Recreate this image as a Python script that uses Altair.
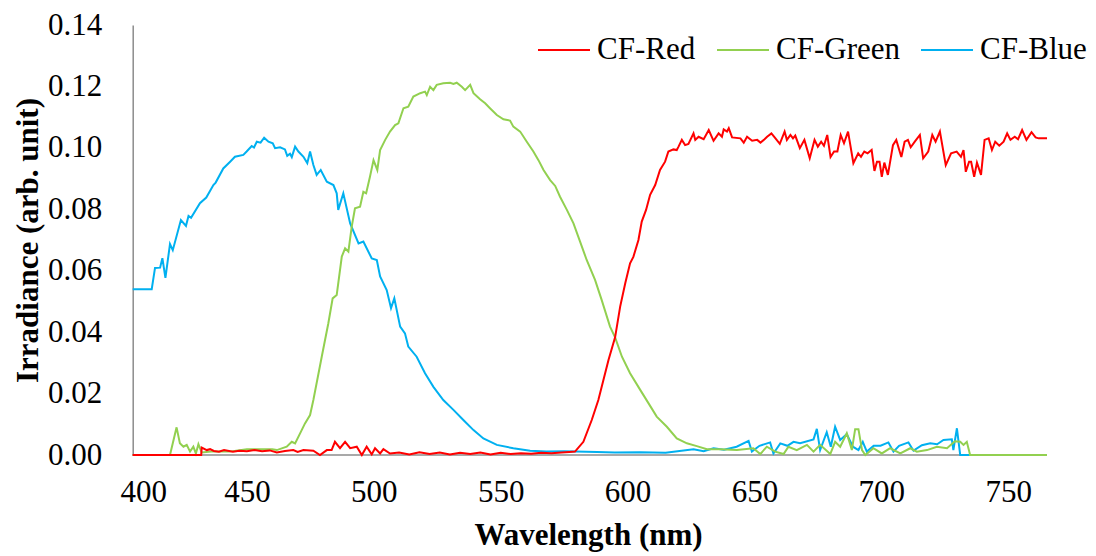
import altair as alt
import pandas as pd

# ---------------- data ----------------
blue_wl = [405, 412.5, 413.8, 415.8, 416.7, 417.9, 419.7, 420.8, 424.0, 426.0, 427.0, 428.0,
           431.5, 434.0, 436.8, 437.7, 440.7, 443.4, 445.3, 448.6, 449.9, 451.9, 452.8, 453.9,
           455.4, 456.8, 458.5, 460.2, 461.1, 463.1, 465.0, 465.9, 467.0, 467.7, 469.0, 470.3,
           472.3, 473.0, 473.8, 474.9, 476.2, 477.5, 479.1, 481.5, 484.1, 485.4, 486.0, 488.0,
           490.7, 494.0, 495.9, 499.2, 501.2, 502.5, 505.1, 506.8, 508.1, 510.4, 512.3, 513.6,
           516.9, 520.2, 523.5, 527.4, 531.4, 535.3, 539.3, 543.2, 548.5, 555.0, 561.6, 568,
           575, 588, 595, 605, 615, 626, 630, 633.9, 638, 643, 647.7, 649, 652, 656.2, 657.5,
           660.2, 663, 665.4, 668, 673.3, 674.6, 675.9, 678.5, 680.1, 681.8, 683.8, 686.4,
           688.8, 691, 692.7, 694.3, 697, 699.7, 702.8, 704.8, 707, 710.7, 712.7, 716, 719.3,
           722, 724.5, 727.8, 728.4, 729.8, 731.1, 765.3]
blue_val = [0.0540, 0.0540, 0.0609, 0.0610, 0.0641, 0.0577, 0.0687, 0.0667, 0.0765, 0.0746, 0.0778, 0.0772,
            0.0820, 0.0838, 0.0879, 0.0887, 0.0933, 0.0955, 0.0971, 0.0977, 0.0988, 0.1006, 0.1001, 0.1020,
            0.1017, 0.1033, 0.1020, 0.1015, 0.0999, 0.1002, 0.0995, 0.0974, 0.0981, 0.0970, 0.1004, 0.0988,
            0.0971, 0.0961, 0.0950, 0.0988, 0.0944, 0.0912, 0.0928, 0.0890, 0.0879, 0.0852, 0.0798, 0.0852,
            0.0754, 0.0689, 0.0695, 0.0640, 0.0635, 0.0581, 0.0537, 0.0478, 0.0510, 0.0418, 0.0396, 0.0353,
            0.0320, 0.0266, 0.0222, 0.0179, 0.0147, 0.0114, 0.0081, 0.0054, 0.0033, 0.0022, 0.0014, 0.0011,
            0.0012, 0.0010, 0.0008, 0.0009, 0.0007, 0.0019, 0.0012, 0.0022, 0.0017, 0.0027, 0.0046, 0.0011, 0.0030, 0.0041, 0.0005,
            0.0038, 0.0030, 0.0043, 0.0038, 0.0051, 0.0085, 0.0016, 0.0074, 0.0027, 0.0092, 0.0049, 0.0068,
            0.0027, 0.0016, 0.0043, 0.0011, 0.0030, 0.0030, 0.0041, 0.0011, 0.0030, 0.0041, 0.0014, 0.0032, 0.0038,
            0.0035, 0.0049, 0.0051, 0.0016, 0.0087, 0.0, 0.0]

green_wl = [405, 419.7, 422.3, 423.6, 425.0, 426.3, 427.6, 428.9, 429.9, 430.9, 432.2, 436, 443,
            450, 456, 460, 461.8, 465.7, 467.7, 469, 471.6, 472.9, 474.9, 476.2, 479.5, 482.1,
            483.8, 485.4, 487.4, 488.7, 490.0, 491.3, 492.6, 494.6, 495.9, 497.0, 498.5, 499.9,
            501.4, 502.5, 504.5, 506.4, 508.4, 509.7, 511.7, 513.6, 515.6, 518.3, 520.2, 520.9,
            522.2, 523.5, 524.8, 527.4, 530.1, 531.4, 532.7, 534.7, 536.0, 538.0, 539.3, 541.9,
            543.9, 545.8, 548.5, 551.1, 553.7, 555.0, 557.7, 560.3, 562.9, 564.9, 566.9, 569.5,
            571.5, 573.4, 576.1, 578.7, 581.3, 583.9, 587.2, 589.8, 593.1, 595.1, 597.8, 601.0,
            605.0, 608.3, 611.5, 615.5, 619.4, 623.4, 627.3, 631.3, 636.5, 643.1, 649.6, 652.3,
            654.9, 658.2, 661.5, 663.4, 666.7, 670.7, 673.3, 675.9, 679.9, 681.8, 683.8, 686.4,
            688.4, 689.7, 691.0, 692.4, 693.7, 696.9, 700.2, 703.5, 707.5, 711.4, 714, 718,
            721.9, 725.9, 729, 731.1, 732.4, 733.7, 735, 765.3]
green_val = [0.0, 0.0, 0.0090, 0.0038, 0.0027, 0.0033, 0.0011, 0.0027, 0.0005, 0.0035, 0.0008, 0.0011, 0.0011,
             0.0019, 0.0019, 0.0019, 0.0016, 0.0027, 0.0043, 0.0038, 0.0081, 0.0103, 0.0130, 0.0179, 0.0320, 0.0429,
             0.0510, 0.0521, 0.0646, 0.0673, 0.0662, 0.0743, 0.0803, 0.0808, 0.0857, 0.0852, 0.0906, 0.0960,
             0.0928, 0.0993, 0.1026, 0.1053, 0.1074, 0.1080, 0.1129, 0.1134, 0.1167, 0.1178, 0.1183, 0.1172,
             0.1199, 0.1188, 0.1205, 0.1210, 0.1212, 0.1208, 0.1212, 0.1199, 0.1188, 0.1205, 0.1178, 0.1158,
             0.1145, 0.1129, 0.1107, 0.1093, 0.1089, 0.1069, 0.1053, 0.1020, 0.0988, 0.0960, 0.0928, 0.0895,
             0.0876, 0.0841, 0.0798, 0.0754, 0.0695, 0.0635, 0.0570, 0.0505, 0.0418, 0.0383, 0.0320, 0.0266,
             0.0212, 0.0168, 0.0125, 0.0092, 0.0054, 0.0038, 0.0029, 0.0019, 0.0019, 0.0016, 0.0022, 0.0003,
             0.0027, 0.0011, 0.0003, 0.0027, 0.0016, 0.0033, 0.0011, 0.0033, 0.0003, 0.0043, 0.0027, 0.0071,
             0.0016, 0.0084, 0.0084, 0.0016, 0.0, 0.0022, 0.0005, 0.0022, 0.0005, 0.0022, 0.0011, 0.0016,
             0.0027, 0.0022, 0.0045, 0.0043, 0.0033, 0.0043, 0.0, 0.0]

red_wl = [405, 432.0, 432.2, 434.2, 435.5, 437, 439, 441, 444.5, 447, 450, 453, 456, 459, 461.8,
          465, 468.3, 470, 472.3, 476.2, 478.8, 481.5, 483.4, 484.7, 486.7, 488.7, 490.7, 493.3,
          495.3, 497.2, 499.2, 500.5, 502.5, 503.8, 506.4, 510, 514, 518, 522, 526, 530, 534, 538,
          542, 546, 550, 554, 558, 562, 566, 570, 574, 577, 579.3, 582.6, 585.9, 588.5, 590.5,
          592.5, 595.1, 597.1, 599.1, 601.0, 602.3, 604.3, 605.6, 607.3, 608.9, 610.9, 612.8,
          614.8, 616.1, 618.1, 619.4, 620.1, 621.4, 622.7, 624.0, 626.0, 626.7, 628.0, 630.0,
          632.0, 633.9, 635.9, 637.2, 637.9, 639.2, 639.9, 641.2, 644.5, 645.8, 647.1, 649.1,
          651.1, 652.4, 654.0, 655.0, 656.7, 658.3, 660.0, 661.9, 662.8, 664.2, 665.2, 666.1,
          667.9, 669.7, 671.8, 673.7, 675.0, 676.3, 677.4, 678.7, 680.0, 681.4, 682.7, 684.0,
          685.3, 686.9, 689.0, 690.9, 692.0, 693.3, 694.6, 696.2, 697.3, 698.3, 699.3, 700.2,
          701.2, 702.6, 704.6, 705.9, 707.9, 709.2, 710.5, 711.6, 713.2, 715.2, 716.5, 718.5,
          720.1, 721.4, 723.1, 725.4, 727.5, 729.7, 731.4, 732.4, 733.3, 734.6, 735.4, 736.6,
          737.7, 739.3, 740.7, 742.3, 743.6, 744.9, 746.5, 748.2, 749.6, 750.9, 752.6, 753.9,
          755.5, 757.2, 759.2, 760.8, 762.0, 765.3]
red_val = [0.0, 0.0, 0.0024, 0.0016, 0.0019, 0.0013, 0.0011, 0.0016, 0.0011, 0.0014, 0.0012, 0.0016, 0.0012, 0.0015, 0.0008,
           0.0013, 0.0016, 0.0010, 0.0016, 0.0014, 0.0, 0.0016, 0.0016, 0.0043, 0.0022, 0.0043, 0.0022, 0.0027,
           0.0, 0.0027, 0.0002, 0.0022, 0.0005, 0.0019, 0.0005, 0.0008, 0.0002, 0.0009, 0.0003, 0.0008, 0.0002, 0.0007, 0.0003,
           0.0008, 0.0002, 0.0007, 0.0003, 0.0006, 0.0004, 0.0007, 0.0006, 0.0008, 0.0010, 0.0011, 0.0043, 0.0114, 0.0179, 0.0244,
           0.0309, 0.0383, 0.0483, 0.0559, 0.0624, 0.0645, 0.0700, 0.0760, 0.0798, 0.0847, 0.0879, 0.0928,
           0.0955, 0.0988, 0.0995, 0.0993, 0.1004, 0.1026, 0.1009, 0.1013, 0.1047, 0.1026, 0.1036, 0.1028,
           0.1058, 0.1023, 0.1047, 0.1036, 0.1060, 0.1053, 0.1064, 0.1034, 0.1031, 0.1017, 0.1036, 0.1023,
           0.1026, 0.1017, 0.1028, 0.1036, 0.1047, 0.1031, 0.1013, 0.1053, 0.1026, 0.1042, 0.1031, 0.1040,
           0.0999, 0.1026, 0.0966, 0.1026, 0.1004, 0.1020, 0.1007, 0.1042, 0.0970, 0.0988, 0.0988, 0.1042,
           0.1015, 0.1053, 0.0950, 0.0982, 0.0971, 0.0988, 0.0982, 0.0993, 0.0925, 0.0955, 0.0955, 0.0906,
           0.0952, 0.0912, 0.1009, 0.1026, 0.0970, 0.1020, 0.1026, 0.1002, 0.1020, 0.1042, 0.0966, 0.0988,
           0.1042, 0.1020, 0.1053, 0.0944, 0.0982, 0.0988, 0.0971, 0.0993, 0.0922, 0.0955, 0.0955, 0.0906,
           0.0952, 0.0912, 0.1026, 0.1031, 0.0993, 0.1020, 0.1007, 0.1020, 0.1047, 0.1026, 0.1036, 0.1028,
           0.1058, 0.1026, 0.1051, 0.1034, 0.1031, 0.1031]

series_names = ["CF-Red", "CF-Green", "CF-Blue"]
series_colors = ["#FF0000", "#92D050", "#00B0F0"]
x_ticks = [400, 450, 500, 550, 600, 650, 700, 750]
y_ticks = [0.0, 0.02, 0.04, 0.06, 0.08, 0.10, 0.12, 0.14]
x_domain = [400, 765.3]
y_domain = [0, 0.14]
x_axis_start = 404.9   # where the vertical axis crosses the horizontal one

# ---------------- build table ----------------
rows = []
for name, wl, val in [("CF-Blue", blue_wl, blue_val),
                      ("CF-Green", green_wl, green_val),
                      ("CF-Red", red_wl, red_val)]:
    for w, v in zip(wl, val):
        rows.append({"series": name, "wavelength": w, "irradiance": v})
df = pd.DataFrame(rows)

axis_df = pd.DataFrame({"wavelength": [x_axis_start], "wavelength_end": [x_domain[1]],
                        "irradiance": [0.0]})

FONT = "Liberation Serif"
GREY = "#8c8c8c"
x_scale = alt.Scale(domain=x_domain, nice=False, zero=False)
y_scale = alt.Scale(domain=y_domain, nice=False, zero=True)

x_axis = alt.Axis(values=x_ticks, format="d", title="Wavelength (nm)",
                  domain=False, ticks=False, tickSize=0, grid=False,
                  labelPadding=22, titleX=468, titleY=65, titleBaseline="top",
                  labelFont=FONT, labelFontSize=31, labelColor="black",
                  titleFont=FONT, titleFontSize=31, titleFontWeight="bold", titleColor="black")
y_axis = alt.Axis(values=y_ticks, format=".2f", title="Irradiance (arb. unit)",
                  domain=True, domainColor=GREY, domainWidth=1.5,
                  ticks=False, tickSize=0, grid=False, offset=-12.7,
                  labelPadding=31, titlePadding=3,
                  labelFont=FONT, labelFontSize=31, labelColor="black",
                  titleFont=FONT, titleFontSize=31, titleFontWeight="bold", titleColor="black")

axis_line = alt.Chart(axis_df).mark_rule(color=GREY, strokeWidth=1.5).encode(
    x=alt.X("wavelength:Q", scale=x_scale, axis=x_axis),
    x2="wavelength_end:Q",
    y=alt.Y("irradiance:Q", scale=y_scale, axis=y_axis),
)

lines = alt.Chart(df).mark_line(strokeWidth=2, interpolate="linear").encode(
    x=alt.X("wavelength:Q", scale=x_scale, axis=x_axis),
    y=alt.Y("irradiance:Q", scale=y_scale, axis=y_axis),
    color=alt.Color("series:N",
                    scale=alt.Scale(domain=series_names, range=series_colors),
                    legend=alt.Legend(title=None, orient="none", direction="horizontal",
                                      legendX=417, legendY=-2, symbolType="stroke",
                                      symbolSize=2704, symbolStrokeWidth=2,
                                      labelOffset=6, columnPadding=17, padding=0,
                                      labelFont=FONT, labelFontSize=31, labelColor="black",
                                      labelLimit=300)),
)

chart = alt.layer(axis_line, lines).properties(
    width=927, height=430,
    background="white",
    autosize=alt.AutoSizeParams(type="none"),
    padding={"left": 112, "top": 17, "right": 41, "bottom": 101},
).configure_view(strokeWidth=0, stroke="transparent")

chart.save("out.html", embed_options={"renderer": "svg", "actions": False})
